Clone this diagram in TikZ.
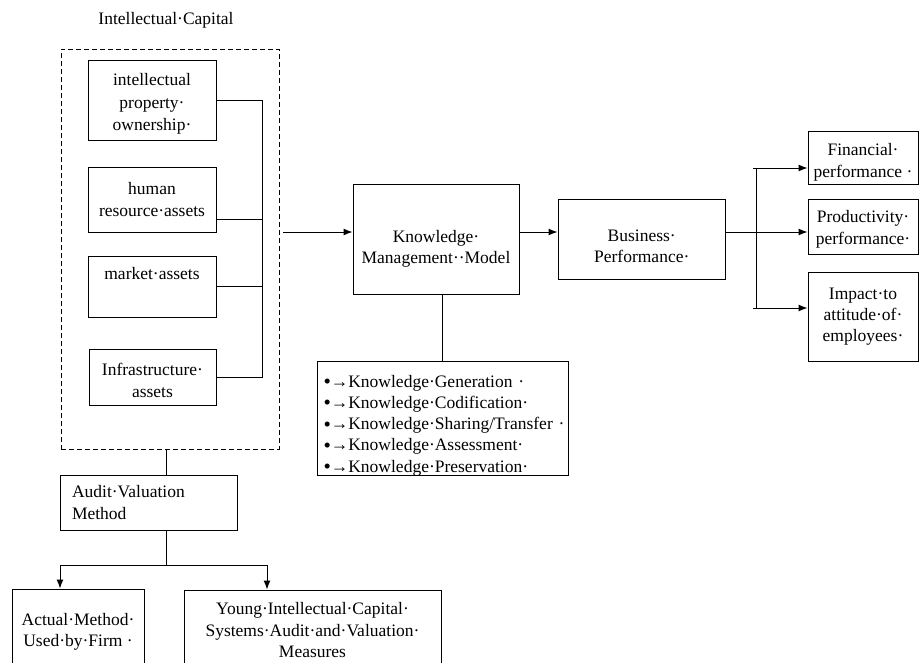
\documentclass[tikz,border=0pt]{standalone}
\usepackage{fontspec}
\setmainfont{Liberation Serif}
\usetikzlibrary{arrows.meta,positioning,calc}
\newcommand{\dropln}[1]{\rule{0pt}{#1}}
\newcommand{\itm}{\raisebox{-1.5pt}{\fontsize{21}{21.3}\selectfont•}→}

\begin{document}
\begin{tikzpicture}[x=1pt,y=-1pt,>={Latex[length=9pt,width=7pt]},line width=1pt,
  box/.style={draw,rectangle,inner sep=0pt,align=center,
    font=\fontsize{17.5}{21.3}\selectfont},
  lbl/.style={inner sep=0pt,font=\fontsize{17.5}{21.3}\selectfont}]
  \clip (0,0) rectangle (920,662);
  % intellectual capital group
  \node (title) [lbl] at (166,20) {Intellectual·Capital};
  \node (ic) [draw,rectangle,dash pattern=on 5pt off 3pt,minimum width=218,minimum height=400] at (170,249) {};
  \node (ip) [box,minimum width=128,minimum height=80] at (152,100) {\dropln{20pt}intellectual\\[1.5pt]property·\\[1.5pt]ownership·};
  \node (hr) [box,minimum width=128,minimum height=65] at (152,199.5) {human\\resource·assets};
  \node (mkt) [box,minimum width=128,minimum height=61] at (152,286.5) {market·assets\\[5pt]};
  \node (infra) [box,minimum width=127,minimum height=56] at (152.5,377) {\dropln{19pt}Infrastructure·\\assets};
  \coordinate (bus) at (262,0);
  \draw (ip.east) -| (bus |- infra.east) -- (infra.east);
  \draw ([yshift=-20pt]hr.east) -- ++(46,0);
  \draw (mkt.east) -- ++(46,0);
  % knowledge management
  \node (kmm) [box,minimum width=166,minimum height=110] at (436,239) {\dropln{32pt}Knowledge·\\Management··Model};
  \node (bp) [box,minimum width=167.5,minimum height=80] at (641.75,239) {\dropln{26pt}Business·\\Performance·};
  \node (list) [box,minimum width=251,minimum height=113,align=left,text width=238] at (442.5,418.5) {%
    \dropln{26pt}\itm Knowledge·Generation~·\\
    \itm Knowledge·Codification·\\
    \itm Knowledge·Sharing/Transfer~·\\
    \itm Knowledge·Assessment·\\
    \itm Knowledge·Preservation·};
  \coordinate (icout) at (283,232);
  \draw[->] (icout) -- (icout -| kmm.west);
  \draw[->] ([yshift=7pt]kmm.east) -- ([yshift=7pt]bp.west);
  \draw (list.north) -- (list.north |- kmm.south);
  % performance outcomes
  \node (fin) [box,minimum width=110,minimum height=53] at (863,157.5) {\dropln{22pt}Financial·\\performance~·};
  \node (prod) [box,minimum width=110,minimum height=55] at (863,226.5) {\dropln{18pt}Productivity·\\performance·};
  \node (imp) [box,minimum width=110,minimum height=89] at (863,316.5) {Impact·to\\attitude·of·\\employees·};
  \coordinate (forkt) at (753,168);
  \coordinate (forkb) at (753,308);
  \draw[->] ([yshift=7pt]bp.east) -- ([yshift=7pt]bp.east -| prod.west);
  \draw[->] (forkt) -- (forkt -| fin.west);
  \draw[->] (forkb) -- (forkb -| imp.west);
  \draw ([xshift=3pt]forkt) -- ([xshift=3pt]forkb);
  % audit valuation
  \node (audit) [box,minimum width=177,minimum height=55,align=left,text width=153] at (148.5,502.5) {Audit·Valuation\\Method};
  \node (act) [box,minimum width=132,minimum height=86] at (78,632) {Actual·Method·\\Used·by·Firm~·};
  \node (yng) [box,minimum width=257,minimum height=80] at (312.5,630) {Young·Intellectual·Capital·\\Systems·Audit·and·Valuation·\\Measures};
  \coordinate (icdrop) at (166,449);
  \coordinate (split) at (166,565);
  \draw (icdrop) -- (icdrop |- audit.north);
  \draw (split |- audit.south) -- (split);
  \draw[->] (split) -| ([xshift=-18pt]act.north);
  \draw[->] (split) -| ([xshift=-45.5pt]yng.north);
\end{tikzpicture}
\end{document}
